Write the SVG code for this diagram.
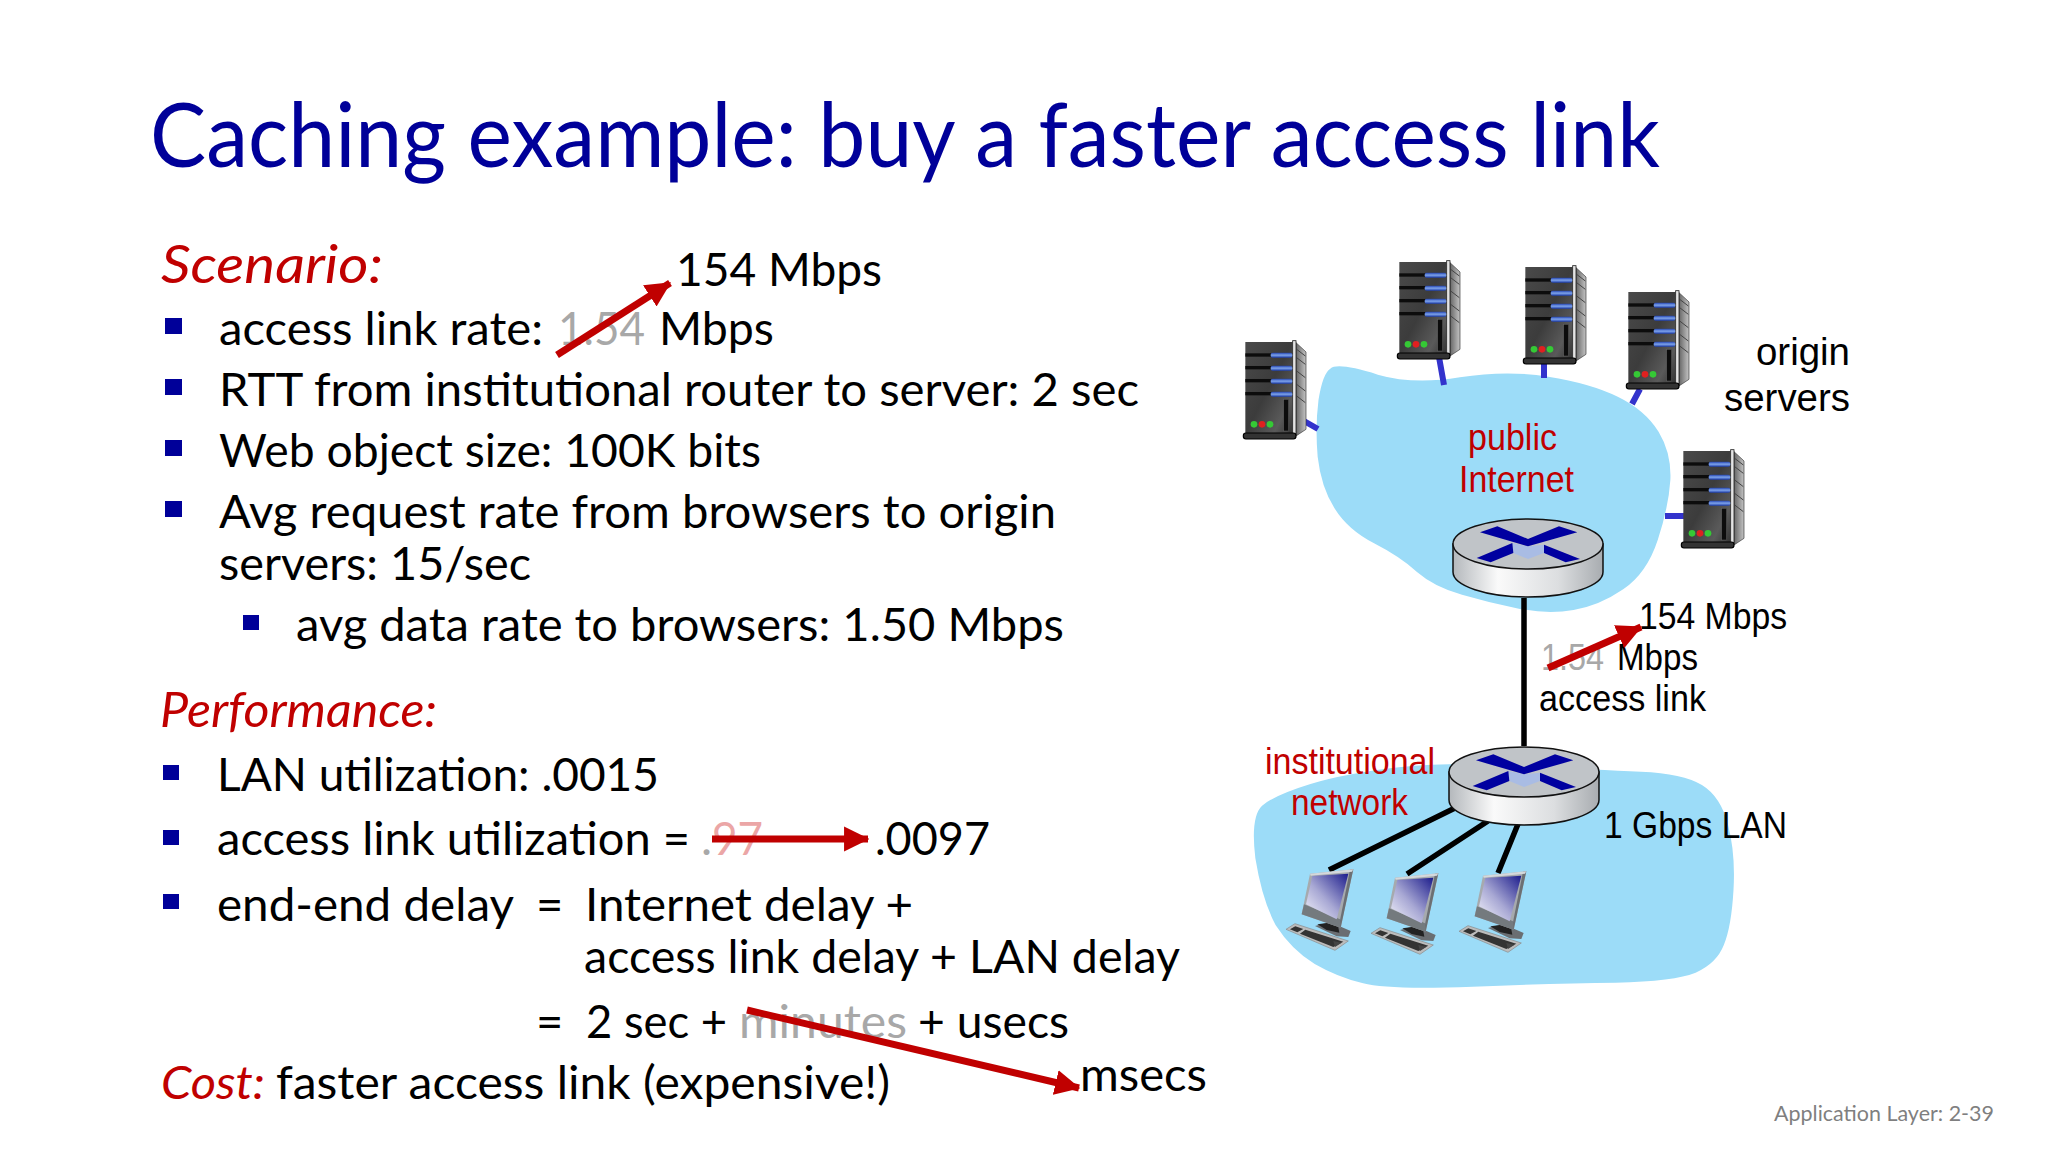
<svg xmlns="http://www.w3.org/2000/svg" width="2048" height="1152" viewBox="0 0 2048 1152">
<style>
text{font-family:Lato,"Liberation Sans",sans-serif;fill:#000}
.t{font-size:47px}
.title{font-size:90px;fill:#000099}
.red{fill:#c00000;font-style:italic}
.a{font-family:"Liberation Sans",Arial,sans-serif;font-size:36px}
.ar{fill:#c00000}
.g{fill:#a8a8a8}
.b{fill:#000099}
.lk{stroke:#3333cc;stroke-width:6;fill:none}
.bl{stroke:#000;stroke-width:5.5;fill:none}
.arw{stroke:#c00000;stroke-width:7;fill:none;marker-end:url(#ah)}
.cloud{fill:#9cdcf8}
</style>
<defs>
<marker id="ah" viewBox="0 0 10 10" refX="9.5" refY="5" markerWidth="3.6" markerHeight="3.6" orient="auto"><path d="M0 0L10 5L0 10Z" fill="#c00000"/></marker>
<linearGradient id="srv" x1="0" y1="0" x2="1" y2="1"><stop offset="0" stop-color="#4a4a4a"/><stop offset=".5" stop-color="#3c3c3c"/><stop offset=".8" stop-color="#5a5a5a"/><stop offset="1" stop-color="#333"/></linearGradient>
<linearGradient id="side" x1="0" y1="0" x2="1" y2="0"><stop offset="0" stop-color="#666"/><stop offset="1" stop-color="#c4c4c4"/></linearGradient>
<linearGradient id="pill" x1="0" y1="0" x2="0" y2="1"><stop offset="0" stop-color="#1e3fae"/><stop offset=".5" stop-color="#7fa4ea"/><stop offset="1" stop-color="#1e3fae"/></linearGradient>
<linearGradient id="cyl" x1="0" y1="0" x2="1" y2="0"><stop offset="0" stop-color="#b4b8bc"/><stop offset=".3" stop-color="#fafafa"/><stop offset=".7" stop-color="#dcdee0"/><stop offset="1" stop-color="#a8acb0"/></linearGradient>
<linearGradient id="scr" x1="1" y1="0" x2="0" y2="1"><stop offset="0" stop-color="#1c1c8c"/><stop offset=".55" stop-color="#a8a8d4"/><stop offset="1" stop-color="#f6f6fc"/></linearGradient>
<g id="server" transform="scale(.3333) translate(-36,-21)">
<path d="M192 20L222 48V280L192 300Z" fill="url(#side)" stroke="#333" stroke-width="2"/>
<path d="M194 65L220 85M194 105L220 125M194 145L220 165M194 180L220 200M194 40L220 60" stroke="#444" stroke-width="3" fill="none"/>
<rect x="40" y="18" width="142" height="274" fill="url(#srv)"/>
<rect x="182" y="14" width="10" height="280" fill="#e4e4e4" stroke="#222" stroke-width="2.5"/>
<g fill="#0c0c0c"><rect x="40" y="52" width="85" height="10"/><rect x="40" y="90" width="85" height="10"/><rect x="40" y="129" width="85" height="10"/><rect x="40" y="168" width="85" height="10"/></g>
<g fill="url(#pill)"><rect x="116" y="50" width="65" height="15" rx="6"/><rect x="116" y="89" width="65" height="15" rx="6"/><rect x="116" y="128" width="65" height="15" rx="6"/><rect x="116" y="167" width="65" height="15" rx="6"/></g>
<rect x="155" y="190" width="15" height="95" fill="#0c0c0c" stroke="#666" stroke-width="1.5"/>
<circle cx="66" cy="265" r="10" fill="#35c935"/><circle cx="90" cy="265" r="10" fill="#e02020"/><circle cx="114" cy="265" r="10" fill="#35c935"/>
<rect x="34" y="291" width="158" height="18" rx="8" fill="#333" stroke="#000" stroke-width="3.5"/>
</g>
<g id="router" transform="scale(.3333)">
<path d="M-225 0V84A225 75 0 0 0 225 84V0Z" fill="url(#cyl)" stroke="#111" stroke-width="4.5"/>
<ellipse cx="0" cy="0" rx="225" ry="75" fill="#c0c4c8" stroke="#111" stroke-width="4.5"/>
<path d="M-47 -3L0 7L48 2L48 27L0 45L-44 27Z" fill="#a9bce4"/>
<path d="M-144 -35L-92 -53L0 -15L93 -53L148 -35L0 7Z" fill="#0000a0"/>
<path d="M-154 42L-47 -3L-44 27L-112 55Z" fill="#0000a0"/>
<path d="M48 2L156 45L113 55L48 27Z" fill="#0000a0"/>
</g>
<g id="pc" transform="scale(.3333)">
<path d="M105 195L150 183L212 210L205 228L170 226Z" fill="#6a6e72"/>
<path d="M112 190L172 182L178 215L140 207Z" fill="#222"/>
<path d="M18 205L45 188L205 240L165 268Z" fill="#bcbcbc" stroke="#888" stroke-width="2"/>
<path d="M30 205L46 196L70 204L52 214ZM76 206L190 242L160 258L60 218Z" fill="#333"/>
<path d="M160 240L185 245L165 258Z" fill="#444"/>
<path d="M90 38L220 25L182 200L65 160Z" fill="#a6aaae"/>
<path d="M210 26L220 25L182 200L176 198Z" fill="#6c7074"/>
<path d="M72 130L180 175L182 200L65 160Z" fill="#747a7e"/>
<path d="M90 38L220 25L216 32L92 44Z" fill="#d4d8dc"/>
<path d="M97 45L205 38L170 175L78 130Z" fill="url(#scr)"/>
</g>
</defs>
<rect width="2048" height="1152" fill="#fff"/>
<text class="title" x="150" y="167" textLength="1510" lengthAdjust="spacingAndGlyphs">Caching example: buy a faster access link</text>

<g id="text-scenario">
<text class="t red" x="161" y="283" style="font-size:53px" textLength="222" lengthAdjust="spacingAndGlyphs">Scenario:</text>
<g class="b"><rect x="165" y="318" width="17" height="16"/><rect x="165" y="379" width="17" height="16"/><rect x="165" y="440" width="17" height="16"/><rect x="165" y="501" width="17" height="16"/><rect x="243" y="615" width="16" height="15"/></g>
<text class="t" x="219" y="345" textLength="324" lengthAdjust="spacingAndGlyphs">access link rate:</text>
<text class="t g" x="558" y="345" textLength="87" lengthAdjust="spacingAndGlyphs">1.54</text>
<text class="t" x="659" y="345" textLength="115" lengthAdjust="spacingAndGlyphs">Mbps</text>
<text class="t" x="676" y="286" textLength="206" lengthAdjust="spacingAndGlyphs">154 Mbps</text>
<text class="t" x="219" y="406" textLength="920" lengthAdjust="spacingAndGlyphs">RTT from institutional router to server: 2 sec</text>
<text class="t" x="219" y="467" textLength="542" lengthAdjust="spacingAndGlyphs">Web object size: 100K bits</text>
<text class="t" x="219" y="528" textLength="837" lengthAdjust="spacingAndGlyphs">Avg request rate from browsers to origin</text>
<text class="t" x="219" y="580" textLength="312" lengthAdjust="spacingAndGlyphs">servers: 15/sec</text>
<text class="t" x="296" y="641" textLength="768" lengthAdjust="spacingAndGlyphs">avg data rate to browsers: 1.50 Mbps</text>
</g>
<g id="text-performance">
<text class="t red" x="160" y="727" style="font-size:49px" textLength="277" lengthAdjust="spacingAndGlyphs">Performance:</text>
<g class="b"><rect x="163" y="765" width="16" height="15"/><rect x="163" y="830" width="16" height="15"/><rect x="163" y="894" width="16" height="15"/></g>
<text class="t" x="217" y="791" textLength="442" lengthAdjust="spacingAndGlyphs">LAN utilization: .0015</text>
<text class="t" x="217" y="855" textLength="473" lengthAdjust="spacingAndGlyphs">access link utilization =</text>
<text class="t g" x="701" y="855">.</text>
<text class="t" x="712" y="855" style="fill:#eba6a6" textLength="51" lengthAdjust="spacingAndGlyphs">97</text>
<text class="t" x="875" y="855" textLength="115" lengthAdjust="spacingAndGlyphs">.0097</text>
<text class="t" x="217" y="921" textLength="297" lengthAdjust="spacingAndGlyphs">end-end delay</text>
<text class="t" x="536" y="921">=</text>
<text class="t" x="585" y="921" textLength="328" lengthAdjust="spacingAndGlyphs">Internet delay +</text>
<text class="t" x="584" y="973" textLength="596" lengthAdjust="spacingAndGlyphs">access link delay + LAN delay</text>
<text class="t" x="536" y="1038">=</text>
<text class="t" x="586" y="1038" textLength="141" lengthAdjust="spacingAndGlyphs">2 sec +</text>
<text class="t g" x="739" y="1038" textLength="168" lengthAdjust="spacingAndGlyphs">minutes</text>
<text class="t" x="918" y="1038" textLength="151" lengthAdjust="spacingAndGlyphs">+ usecs</text>
<text class="t" x="1080" y="1091" textLength="127" lengthAdjust="spacingAndGlyphs">msecs</text>
<text class="t red" x="161" y="1099" textLength="104" lengthAdjust="spacingAndGlyphs">Cost:</text>
<text class="t" x="276" y="1099" textLength="614" lengthAdjust="spacingAndGlyphs">faster access link (expensive!)</text>
</g>
<text id="footer" x="1774" y="1121" style="font-size:21px;fill:#7f7f7f" textLength="220" lengthAdjust="spacingAndGlyphs">Application Layer: 2-39</text>

<g id="cloud-internet"><path class="cloud" transform="translate(1220,240) scale(.4209,.3333)" d="M262 386Q280 366 375 404Q460 435 570 412Q680 390 780 410Q880 430 945 470Q1010 510 1042 575Q1073 640 1070 720Q1066 800 1040 900Q1014 1000 958 1048Q900 1098 840 1110Q780 1124 710 1106Q640 1088 575 1064Q510 1042 468 996Q428 950 366 910Q304 870 272 805Q240 740 232 650Q226 560 234 480Q244 400 262 386Z"/></g>
<g id="cloud-lan"><path class="cloud" transform="translate(1220,600) scale(.4209,.3333)" d="M84 775Q72 650 100 617Q130 585 215 552Q300 520 425 502Q550 485 725 497Q900 510 1000 515Q1100 520 1145 555Q1190 590 1207 675Q1225 760 1220 870Q1215 980 1197 1035Q1180 1090 1130 1118Q1080 1144 940 1148Q800 1150 600 1160Q400 1170 340 1150Q280 1132 225 1092Q170 1050 132 975Q100 900 84 775Z"/></g>

<g id="connectors">
<path class="lk" d="M1304 421L1318 429M1439 357L1444 385M1544 363V378M1640 389L1632 404M1665 516H1690"/>
<path class="bl" d="M1524 598V746M1455 808L1329 870M1488 821L1407 874M1518 824L1498 873"/>
</g>

<g id="server-1"><use href="#server" transform="translate(1244,343)"/></g>
<g id="server-2"><use href="#server" transform="translate(1398,263)"/></g>
<g id="server-3"><use href="#server" transform="translate(1524,268)"/></g>
<g id="server-4"><use href="#server" transform="translate(1627,293)"/></g>
<g id="server-5"><use href="#server" transform="translate(1682,452)"/></g>
<g id="router-internet"><use href="#router" transform="translate(1528,544)"/></g>
<g id="router-institution"><use href="#router" transform="translate(1524,772)"/></g>
<g id="pc-1"><use href="#pc" transform="translate(1280,861)"/></g>
<g id="pc-2"><use href="#pc" transform="translate(1365,865)"/></g>
<g id="pc-3"><use href="#pc" transform="translate(1453,863)"/></g>

<g id="labels">
<text class="a" x="1756" y="365" style="font-size:38px" textLength="94" lengthAdjust="spacingAndGlyphs">origin</text>
<text class="a" x="1724" y="411" style="font-size:38px" textLength="126" lengthAdjust="spacingAndGlyphs">servers</text>
<text class="a ar" x="1468" y="450" textLength="89" lengthAdjust="spacingAndGlyphs">public</text>
<text class="a ar" x="1459" y="492" textLength="115" lengthAdjust="spacingAndGlyphs">Internet</text>
<text class="a" x="1639" y="629" textLength="148" lengthAdjust="spacingAndGlyphs">154 Mbps</text>
<text class="a g" x="1541" y="670" textLength="63" lengthAdjust="spacingAndGlyphs">1.54</text>
<text class="a" x="1617" y="670" textLength="81" lengthAdjust="spacingAndGlyphs">Mbps</text>
<text class="a" x="1539" y="711" textLength="167" lengthAdjust="spacingAndGlyphs">access link</text>
<text class="a ar" x="1265" y="774" textLength="170" lengthAdjust="spacingAndGlyphs">institutional</text>
<text class="a ar" x="1291" y="815" textLength="117" lengthAdjust="spacingAndGlyphs">network</text>
<text class="a" x="1604" y="838" textLength="183" lengthAdjust="spacingAndGlyphs">1 Gbps LAN</text>
</g>
<g id="red-arrows">
<path class="arw" d="M557 355L670 283"/>
<path class="arw" d="M1548 668L1641 627"/>
<path class="arw" d="M712 839H868"/>
<path class="arw" d="M747 1010L1079 1088"/>
</g>
</svg>
